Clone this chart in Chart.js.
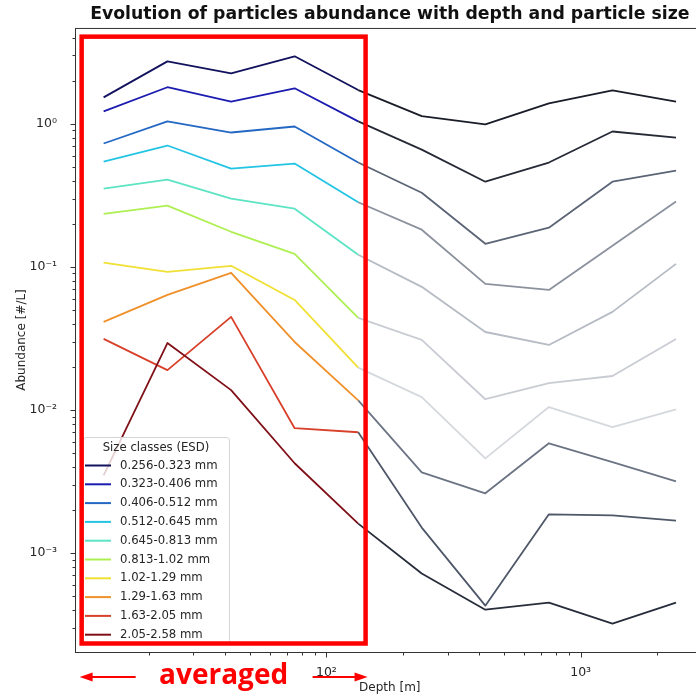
<!DOCTYPE html>
<html>
<head>
<meta charset="utf-8">
<title>Particle abundance vs depth</title>
<script src="https://cdn.jsdelivr.net/npm/chart.js@4.4.0/dist/chart.umd.min.js"></script>
<style>
  html, body { margin: 0; padding: 0; background: #fff; overflow: hidden; }
  #wrap { position: absolute; left: 0; top: 0; width: 707px; height: 695px; }
</style>
</head>
<body>
<div id="wrap"><canvas id="abundanceChart" width="707" height="695"></canvas></div>
<script>
// depth bin centres [m]
const depth = [13.3, 23.7, 42.2, 75.0, 133.4, 237.1, 421.7, 749.9, 1333.5, 2371.4];

const sizeClasses = [
    '0.256-0.323 mm', '0.323-0.406 mm', '0.406-0.512 mm', '0.512-0.645 mm',
    '0.645-0.813 mm', '0.813-1.02 mm', '1.02-1.29 mm', '1.29-1.63 mm',
    '1.63-2.05 mm', '2.05-2.58 mm'
];

// abundance [#/L] per size class, one value per depth bin
const c0256 = [1.53, 2.73, 2.25, 2.96, 1.72, 1.13, 0.99, 1.39, 1.71, 1.43];
const c0323 = [1.22, 1.80, 1.43, 1.77, 1.04, 0.66, 0.394, 0.536, 0.883, 0.80];
const c0406 = [0.728, 1.04, 0.869, 0.957, 0.536, 0.330, 0.145, 0.188, 0.394, 0.471];
const c0512 = [0.545, 0.705, 0.486, 0.527, 0.283, 0.182, 0.0762, 0.0691, 0.1406, 0.286];
const c0645 = [0.352, 0.407, 0.300, 0.255, 0.1215, 0.0726, 0.0351, 0.0285, 0.0485, 0.105];
const c0813 = [0.235, 0.268, 0.176, 0.1235, 0.0440, 0.0309, 0.0119, 0.0154, 0.0173, 0.0314];
const c1020 = [0.107, 0.0924, 0.1018, 0.0588, 0.0198, 0.0123, 0.0046, 0.0105, 0.0076, 0.0101];
const c1290 = [0.0413, 0.0638, 0.0910, 0.0299, 0.0117, 0.00367, 0.00262, 0.00586, 0.00432, 0.00318];
const c1630 = [0.0314, 0.0190, 0.0448, 0.00747, 0.0070, 0.00151, 0.00043, 0.00187, 0.00184, 0.00169];
const c2050 = [0.0035, 0.0294, 0.01378, 0.00425, 0.00161, 0.000721, 0.000403, 0.000452, 0.000322, 0.000452];

const abundance = [c0256, c0323, c0406, c0512, c0645, c0813, c1020, c1290, c1630, c2050];

// the first bins are averaged, the deeper ones are drawn in greys
const averagedCount = 5;
const averagedSpan = [10.9, 142.6];

const jetColors = ['#12125e', '#1c1cb0', '#2468c4', '#24c4e4', '#5ce4c4',
                   '#aef052', '#f0e034', '#f0902a', '#d8402a', '#801018'];
const deepColors = ['#1a1d28', '#262a36', '#5c6576', '#8b919d', '#b6bbc4',
                    '#c9ccd3', '#d5d8dd', '#6c7484', '#4e5868', '#272d3a'];

Chart.defaults.font.family = '"DejaVu Sans", sans-serif';
Chart.defaults.color = '#262626';

const sup = {'-': '⁻', '0': '⁰', '1': '¹', '2': '²', '3': '³', '4': '⁴', '5': '⁵', '6': '⁶', '7': '⁷', '8': '⁸', '9': '⁹'};

function isDecade(v) {
    const l = Math.log10(v);
    return Math.abs(l - Math.round(l)) < 1e-6;
}

function decadeLabel(v) {
    if (!isDecade(v)) return '';
    return '10' + String(Math.round(Math.log10(v))).split('').map(ch => sup[ch]).join('');
}

function logTickValues(min, max) {
    const out = [];
    for (let e = Math.floor(Math.log10(min)); e <= Math.ceil(Math.log10(max)); e++) {
        for (let m = 1; m <= 9; m++) {
            const v = m * Math.pow(10, e);
            if (v >= min && v <= max) out.push({ value: v });
        }
    }
    return out;
}

// matplotlib-like 5% margin in log space
function paddedLogRange(values) {
    const lo = Math.log10(Math.min(...values));
    const hi = Math.log10(Math.max(...values));
    const pad = (hi - lo) * 0.05;
    return [Math.pow(10, lo - pad), Math.pow(10, hi + pad)];
}

const xRange = paddedLogRange(depth);
const yRange = paddedLogRange(abundance.flat());

// frame and tick marks (long for decades, short for minors)
const axesFrame = {
    id: 'axesFrame',
    afterDraw(chart) {
        const { ctx, chartArea: a, scales: { x, y } } = chart;
        ctx.save();
        ctx.strokeStyle = '#333';
        ctx.lineWidth = 1;
        ctx.strokeRect(a.left + 0.5, a.top + 0.5, a.right - a.left - 1, a.bottom - a.top);
        x.ticks.forEach(t => {
            const px = Math.round(x.getPixelForValue(t.value)) + 0.5;
            const len = isDecade(t.value) ? 5 : 3;
            ctx.beginPath();
            ctx.moveTo(px, a.bottom + 0.5);
            ctx.lineTo(px, a.bottom + 0.5 + len);
            ctx.stroke();
        });
        y.ticks.forEach(t => {
            const py = Math.round(y.getPixelForValue(t.value)) + 0.5;
            const len = isDecade(t.value) ? 5 : 3;
            ctx.beginPath();
            ctx.moveTo(a.left + 0.5, py);
            ctx.lineTo(a.left + 0.5 - len, py);
            ctx.stroke();
        });
        ctx.restore();
    }
};

// legend box in the lower left corner of the plot
const sizeLegend = {
    id: 'sizeLegend',
    afterDatasetsDraw(chart) {
        const { ctx, chartArea: a } = chart;
        const w = 146, h = 206, rowH = 18.8;
        const left = a.left + 8, top = a.bottom - 9 - h;
        ctx.save();
        ctx.beginPath();
        ctx.roundRect(left + 0.5, top + 0.5, w, h, 3);
        ctx.fillStyle = 'rgba(255,255,255,0.8)';
        ctx.fill();
        ctx.strokeStyle = '#d4d4d4';
        ctx.lineWidth = 1;
        ctx.stroke();
        ctx.font = '11.7px "DejaVu Sans"';
        ctx.fillStyle = '#262626';
        ctx.textBaseline = 'middle';
        ctx.textAlign = 'center';
        ctx.fillText('Size classes (ESD)', left + w / 2, top + 11);
        ctx.textAlign = 'left';
        chart.data.datasets.forEach((ds, i) => {
            const yy = top + 28.5 + i * rowH;
            ctx.strokeStyle = ds.borderColor;
            ctx.lineWidth = 2;
            ctx.beginPath();
            ctx.moveTo(left + 2, yy);
            ctx.lineTo(left + 28, yy);
            ctx.stroke();
            ctx.fillText(ds.label, left + 37, yy);
        });
        ctx.restore();
    }
};

function arrow(ctx, xs, xe, y) {
    const dir = Math.sign(xe - xs);
    ctx.beginPath();
    ctx.moveTo(xs, y);
    ctx.lineTo(xe - dir * 10, y);
    ctx.stroke();
    ctx.beginPath();
    ctx.moveTo(xe, y);
    ctx.lineTo(xe - dir * 13, y - 4.5);
    ctx.lineTo(xe - dir * 13, y + 4.5);
    ctx.closePath();
    ctx.fill();
}

// red marker around the averaged depth range
const averagedNote = {
    id: 'averagedNote',
    afterDraw(chart) {
        const { ctx, chartArea: a, scales: { x } } = chart;
        const x0 = x.getPixelForValue(averagedSpan[0]);
        const x1 = x.getPixelForValue(averagedSpan[1]);
        const y0 = a.top + 8.7, y1 = a.bottom - 8.5;
        ctx.save();
        ctx.strokeStyle = '#ff0000';
        ctx.fillStyle = '#ff0000';
        ctx.lineWidth = 4.5;
        ctx.strokeRect(x0, y0, x1 - x0, y1 - y0);
        ctx.font = 'bold 28px "Open Sans"';
        ctx.textAlign = 'center';
        ctx.textBaseline = 'alphabetic';
        ctx.fillText('averaged', (x0 + x1) / 2, a.bottom + 32);
        ctx.lineWidth = 2;
        arrow(ctx, x0 + 54, x0 - 2, a.bottom + 25);
        arrow(ctx, x1 - 53, x1 + 2, a.bottom + 25);
        ctx.restore();
    }
};

new Chart(document.getElementById('abundanceChart'), {
    type: 'line',
    data: {
        datasets: sizeClasses.map((label, i) => ({
            label: label,
            data: depth.map((d, j) => ({ x: d, y: abundance[i][j] })),
            borderColor: jetColors[i],
            borderWidth: 1.8,
            borderJoinStyle: 'round',
            pointRadius: 0,
            tension: 0,
            order: sizeClasses.length - i,
            segment: {
                borderColor: c => c.p0DataIndex >= averagedCount - 1 ? deepColors[i] : undefined
            }
        }))
    },
    options: {
        responsive: false,
        animation: false,
        layout: { padding: 0 },
        plugins: {
            legend: { display: false },
            tooltip: { enabled: false },
            title: {
                display: true,
                text: 'Evolution of particles abundance with depth and particle size',
                fullSize: false,
                color: '#111',
                font: { size: 17.3, weight: 'bold', lineHeight: 1.2 },
                padding: { top: 4, bottom: 3.2 }
            }
        },
        scales: {
            x: {
                type: 'logarithmic',
                min: xRange[0],
                max: xRange[1],
                bounds: 'data',
                grid: { display: false },
                border: { display: false },
                afterBuildTicks: s => { s.ticks = logTickValues(s.min, s.max); },
                afterFit: s => { s.height = 43; },
                ticks: {
                    autoSkip: false,
                    maxRotation: 0,
                    padding: 5,
                    font: { size: 12.5 },
                    callback: v => decadeLabel(v)
                },
                title: {
                    display: true,
                    text: 'Depth [m]',
                    font: { size: 12 },
                    padding: { top: 0, bottom: 0 }
                }
            },
            y: {
                type: 'logarithmic',
                min: yRange[0],
                max: yRange[1],
                bounds: 'data',
                grid: { display: false },
                border: { display: false },
                afterBuildTicks: s => { s.ticks = logTickValues(s.min, s.max); },
                afterFit: s => { s.width = 75; },
                ticks: {
                    autoSkip: false,
                    padding: 10,
                    font: { size: 12.5 },
                    callback: v => decadeLabel(v)
                },
                title: {
                    display: true,
                    text: 'Abundance [#/L]',
                    font: { size: 12 },
                    padding: { top: 15, bottom: 0 }
                }
            }
        }
    },
    plugins: [sizeLegend, axesFrame, averagedNote]
});
</script>
</body>
</html>
